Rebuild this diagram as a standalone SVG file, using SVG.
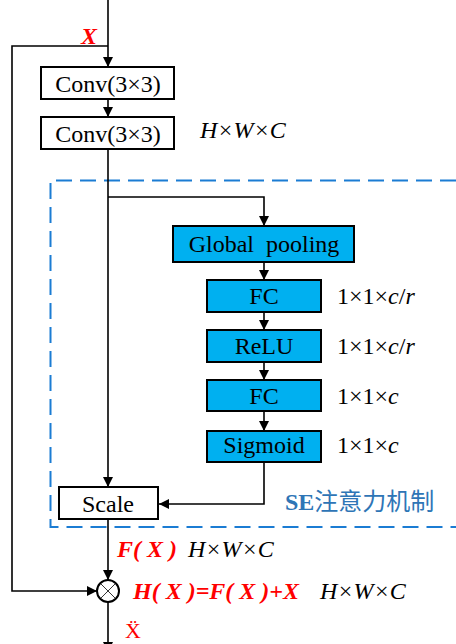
<svg xmlns="http://www.w3.org/2000/svg" width="456" height="644" viewBox="0 0 456 644">
  <style>
    .box { fill: #ffffff; stroke: #000000; stroke-width: 2; }
    .se { fill: #00b0f0; stroke: #000000; stroke-width: 2; }
    .wire { fill: none; stroke: #000000; stroke-width: 1.6; }
    .lbl { font-family: "Liberation Serif", "Times New Roman", serif; font-size: 24px; fill: #000000; }
    .dim { font-family: "Liberation Serif", "Times New Roman", serif; font-size: 24px; font-style: italic; fill: #000000; }
    .red { font-family: "Liberation Serif", "Times New Roman", serif; font-size: 24px; font-style: italic; font-weight: bold; fill: #ff0000; }
    .cn { font-family: "Liberation Serif", "Noto Sans CJK SC", serif; font-size: 24px; fill: #2e75b6; }
    .mid { text-anchor: middle; }
  </style>
  <defs>
    <marker id="arr" viewBox="0 0 10 10" refX="10" refY="5" markerWidth="10" markerHeight="10" markerUnits="userSpaceOnUse" orient="auto">
      <path d="M0,0 L10,5 L0,10 Z" fill="#000000"/>
    </marker>
  </defs>

  <!-- SE attention boundary (dashed, open on the right) -->
  <path id="se-frame" d="M456,180.5 H50.5 V527 H456" fill="none" stroke="#1b7cd3" stroke-width="2" stroke-dasharray="16,8"/>

  <g id="connectors">
    <!-- input down to first conv -->
    <line class="wire" x1="108" y1="0" x2="108" y2="67" marker-end="url(#arr)"/>
    <!-- identity shortcut -->
    <path class="wire" d="M108,46 H12 V591 H97" marker-end="url(#arr)"/>
    <line class="wire" x1="108" y1="99" x2="108" y2="117" marker-end="url(#arr)"/>
    <!-- conv output to scale -->
    <line class="wire" x1="108" y1="149" x2="108" y2="487" marker-end="url(#arr)"/>
    <!-- squeeze branch -->
    <path class="wire" d="M108,197 H264 V226" marker-end="url(#arr)"/>
    <line class="wire" x1="264" y1="262" x2="264" y2="280" marker-end="url(#arr)"/>
    <line class="wire" x1="264" y1="312" x2="264" y2="330" marker-end="url(#arr)"/>
    <line class="wire" x1="264" y1="362" x2="264" y2="380" marker-end="url(#arr)"/>
    <line class="wire" x1="264" y1="411" x2="264" y2="431" marker-end="url(#arr)"/>
    <path class="wire" d="M264,462 V504 H159" marker-end="url(#arr)"/>
    <!-- scale to sum -->
    <line class="wire" x1="108" y1="519" x2="108" y2="580" marker-end="url(#arr)"/>
    <!-- output -->
    <line class="wire" x1="108" y1="602" x2="108" y2="652" marker-end="url(#arr)"/>
  </g>

  <g id="conv1">
    <rect class="box" x="41" y="67" width="133" height="32"/>
    <text class="lbl mid" x="108" y="92">Conv(3×3)</text>
  </g>
  <g id="conv2">
    <rect class="box" x="41" y="117" width="133" height="32"/>
    <text class="lbl mid" x="108" y="142">Conv(3×3)</text>
  </g>
  <text class="dim" x="200" y="138">H×W×C</text>

  <g id="global-pooling">
    <rect class="se" x="173" y="226" width="181" height="36"/>
    <text class="lbl mid" x="264" y="252" xml:space="preserve">Global  pooling</text>
  </g>
  <g id="fc1">
    <rect class="se" x="207" y="280" width="114" height="32"/>
    <text class="lbl mid" x="264" y="304">FC</text>
  </g>
  <text class="lbl" x="337" y="304">1×1×<tspan font-style="italic">c</tspan>/<tspan font-style="italic">r</tspan></text>
  <g id="relu">
    <rect class="se" x="207" y="330" width="114" height="32"/>
    <text class="lbl mid" x="264" y="354">ReLU</text>
  </g>
  <text class="lbl" x="337" y="354">1×1×<tspan font-style="italic">c</tspan>/<tspan font-style="italic">r</tspan></text>
  <g id="fc2">
    <rect class="se" x="207" y="380" width="114" height="31"/>
    <text class="lbl mid" x="264" y="404">FC</text>
  </g>
  <text class="lbl" x="337" y="404">1×1×<tspan font-style="italic">c</tspan></text>
  <g id="sigmoid">
    <rect class="se" x="207" y="431" width="114" height="31"/>
    <text class="lbl mid" x="264" y="453">Sigmoid</text>
  </g>
  <text class="lbl" x="337" y="453">1×1×<tspan font-style="italic">c</tspan></text>

  <g id="scale">
    <rect class="box" x="59" y="487" width="99" height="32"/>
    <text class="lbl mid" x="108" y="512">Scale</text>
  </g>
  <text class="cn" x="285" y="510"><tspan font-weight="bold">SE</tspan>注意力机制</text>

  <text class="red" x="81" y="44" font-size="25">X</text>
  <text class="red" x="117" y="557" xml:space="preserve">F( X )</text>
  <text class="dim" x="188" y="557">H×W×C</text>

  <g id="sum">
    <circle cx="108" cy="591" r="11" fill="#ffffff" stroke="#000000" stroke-width="2"/>
    <path d="M100.2,583.2 L115.8,598.8 M115.8,583.2 L100.2,598.8" stroke="#000000" stroke-width="0.8"/>
  </g>
  <text class="red" x="133" y="599" xml:space="preserve">H( X )=F( X )+X</text>
  <text class="dim" x="320" y="599">H×W×C</text>
  <text x="125" y="638" font-family="Liberation Serif, DejaVu Serif, serif" font-size="22" fill="#ff0000">Ẍ</text>
</svg>
